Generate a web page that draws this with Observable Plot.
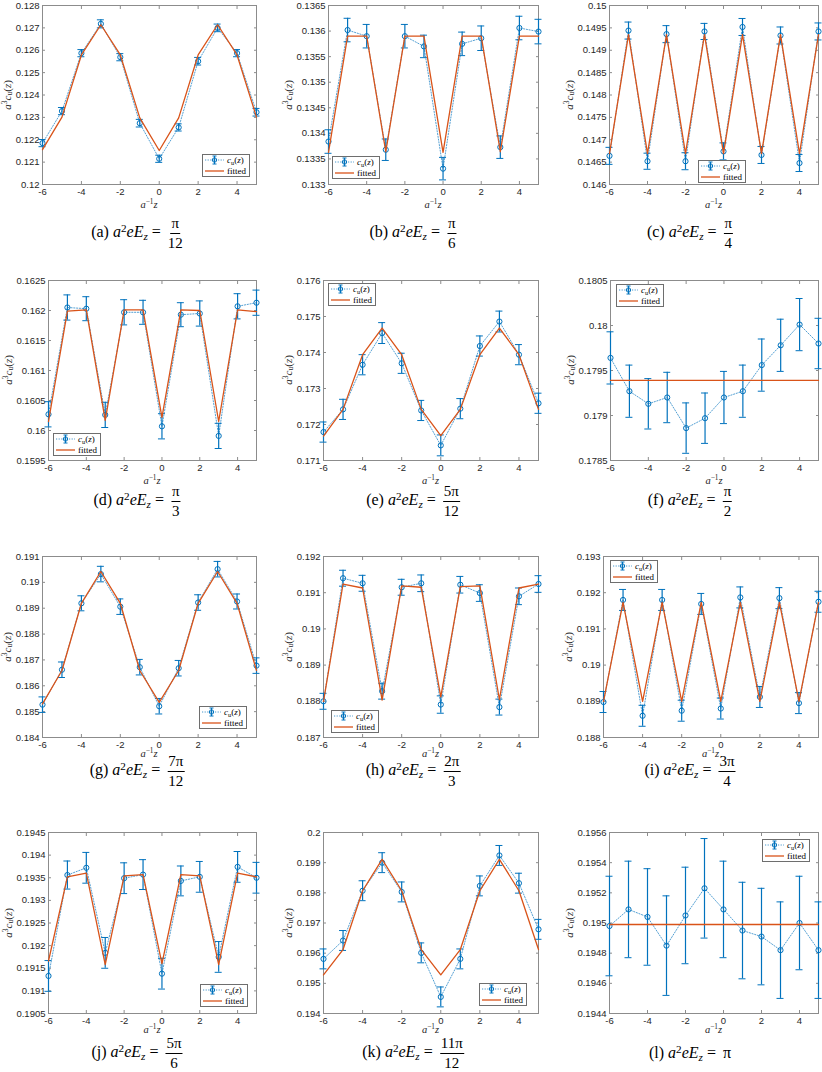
<!DOCTYPE html>
<html><head><meta charset="utf-8">
<script src="https://cdn.jsdelivr.net/npm/d3@7"></script>
<script src="https://cdn.jsdelivr.net/npm/@observablehq/plot@0.6"></script>
<style>
body{margin:0;background:#fff;}
#fig{position:relative;width:822px;height:1072px;overflow:hidden;background:#fff;}
.pan{position:absolute;}
.lab{position:absolute;font-family:"Liberation Serif","DejaVu Serif",serif;color:#262626;white-space:nowrap;line-height:1;}
.ylab{font-size:11px;transform:translate(-50%,-50%) rotate(-90deg);}
.xlab{font-size:10.5px;transform:translate(-50%,-50%);}
.cap{font-size:16px;color:#000;transform:translate(-50%,-50%);line-height:1.2;}
sup{font-size:70%;vertical-align:0.45em;line-height:0;}
sub{font-size:70%;vertical-align:-0.25em;line-height:0;}
.frac{display:inline-flex;flex-direction:column;align-items:center;vertical-align:middle;margin-left:3px;font-size:15px;line-height:1.1;}
.frac .num{border-bottom:1px solid #000;padding:0 1px 1px 1px;}
.frac .den{padding-top:1px;}
.leg{position:absolute;width:48px;height:23px;box-sizing:border-box;border:1px solid #6e6e6e;background:#fff;font-family:"Liberation Serif",serif;font-size:9px;color:#000;padding:0 2px;}
.leg .row{display:flex;align-items:center;height:10.5px;}
.leg svg{flex:none;margin-right:3px;}
</style></head><body><div id="fig"></div>
<script>
// ---------- data ----------
const z = [-6,-5,-4,-3,-2,-1,0,1,2,3,4,5];
const xTicks = [-6,-4,-2,0,2,4];
const panelIds = ["a","b","c","d","e","f","g","h","i","j","k","l"];
const captionNum = ["π","π","π","π","5π","π","7π","2π","3π","5π","11π","π"];
const captionDen = ["12","6","4","3","12","2","12","3","4","6","12",""];

const cu_a = [0.12185,0.12328,0.12587,0.12718,0.12569,0.12274,0.12115,0.12255,0.12551,0.12700,0.12587,0.12323];
const err_a = [0.00016,0.00016,0.00016,0.00018,0.00016,0.00017,0.00016,0.00016,0.00017,0.00017,0.00016,0.00017];
const fit_a = [0.12156,0.12301,0.12579,0.12714,0.12579,0.12298,0.12152,0.12298,0.12579,0.12714,0.12579,0.12301];
const yt_a = [0.120,0.121,0.122,0.123,0.124,0.125,0.126,0.127,0.128];

const cu_b = [0.13384,0.13602,0.13590,0.13368,0.13590,0.13570,0.13331,0.13575,0.13586,0.13373,0.13606,0.13599];
const err_b = [0.00023,0.00023,0.00023,0.00021,0.00023,0.00022,0.00022,0.00023,0.00024,0.00022,0.00023,0.00024];
const fit_b = [0.13363,0.13590,0.13590,0.13364,0.13590,0.13590,0.13363,0.13590,0.13590,0.13364,0.13590,0.13590];
const yt_b = [0.133,0.1335,0.134,0.1345,0.135,0.1355,0.136,0.1365];

const cu_c = [0.14664,0.14944,0.14652,0.14936,0.14652,0.14942,0.14674,0.14952,0.14666,0.14933,0.14648,0.14942];
const err_c = [0.00019,0.00019,0.00018,0.00019,0.00019,0.00018,0.00019,0.00019,0.00019,0.00019,0.00019,0.00019];
const fit_c = [0.14669,0.14935,0.14669,0.14935,0.14669,0.14935,0.14669,0.14935,0.14669,0.14935,0.14669,0.14935];
const yt_c = [0.146,0.1465,0.147,0.1475,0.148,0.1485,0.149,0.1495,0.15];

const cu_d = [0.16027,0.16205,0.16203,0.16026,0.16197,0.16197,0.16007,0.16193,0.16195,0.15991,0.16207,0.16213];
const err_d = [0.00021,0.00021,0.00020,0.00021,0.00021,0.00020,0.00021,0.00020,0.00021,0.00021,0.00021,0.00021];
const fit_d = [0.16015,0.16199,0.16201,0.16017,0.16201,0.16201,0.16022,0.16201,0.16200,0.16015,0.16201,0.16198];
const yt_d = [0.1595,0.16,0.1605,0.161,0.1615,0.162,0.1625];

const cu_e = [0.17179,0.17242,0.17366,0.17454,0.17370,0.17239,0.17142,0.17244,0.17418,0.17486,0.17394,0.17259];
const err_e = [0.00028,0.00028,0.00028,0.00029,0.00028,0.00028,0.00029,0.00028,0.00028,0.00029,0.00028,0.00028];
const fit_e = [0.17168,0.17242,0.17394,0.17468,0.17394,0.17242,0.17169,0.17242,0.17394,0.17468,0.17394,0.17242];
const yt_e = [0.171,0.172,0.173,0.174,0.175,0.176];

const cu_f = [0.17964,0.17927,0.17913,0.17920,0.17886,0.17897,0.17920,0.17927,0.17956,0.17978,0.18001,0.17980];
const err_f = [0.00029,0.00029,0.00028,0.00028,0.00028,0.00028,0.00029,0.00029,0.00029,0.00029,0.00029,0.00028];
const fit_f = [0.17939,0.17939,0.17939,0.17939,0.17939,0.17939,0.17939,0.17939,0.17939,0.17939,0.17939,0.17939];
const yt_f = [0.1785,0.179,0.1795,0.18,0.1805];

const cu_g = [0.18527,0.18662,0.18919,0.19032,0.18906,0.18672,0.18521,0.18668,0.18922,0.19051,0.18926,0.18678];
const err_g = [0.00030,0.00030,0.00029,0.00030,0.00030,0.00030,0.00030,0.00030,0.00030,0.00030,0.00029,0.00030];
const fit_g = [0.18530,0.18659,0.18919,0.19042,0.18919,0.18659,0.18536,0.18659,0.18919,0.19042,0.18919,0.18659];
const yt_g = [0.184,0.185,0.186,0.187,0.188,0.189,0.19,0.191];

const cu_h = [0.18800,0.19140,0.19126,0.18828,0.19115,0.19126,0.18791,0.19122,0.19099,0.18784,0.19090,0.19124];
const err_h = [0.00022,0.00022,0.00022,0.00022,0.00022,0.00023,0.00024,0.00023,0.00023,0.00022,0.00023,0.00023];
const fit_h = [0.18800,0.19124,0.19113,0.18803,0.19119,0.19115,0.18812,0.19117,0.19119,0.18805,0.19113,0.19124];
const yt_h = [0.187,0.188,0.189,0.19,0.191,0.192];

const cu_i = [0.18898,0.19180,0.18860,0.19180,0.18874,0.19169,0.18880,0.19187,0.18912,0.19185,0.18895,0.19175];
const err_i = [0.00029,0.00029,0.00029,0.00029,0.00029,0.00029,0.00029,0.00029,0.00029,0.00029,0.00029,0.00029];
const fit_i = [0.18900,0.19173,0.18900,0.19173,0.18900,0.19173,0.18900,0.19173,0.18900,0.19173,0.18900,0.19173];
const yt_i = [0.188,0.189,0.19,0.191,0.192,0.193];

const cu_j = [0.19133,0.19356,0.19372,0.19184,0.19349,0.19357,0.19138,0.19343,0.19352,0.19175,0.19374,0.19350];
const err_j = [0.00034,0.00031,0.00034,0.00034,0.00034,0.00033,0.00034,0.00033,0.00034,0.00034,0.00034,0.00034];
const fit_j = [0.19166,0.19352,0.19360,0.19158,0.19354,0.19357,0.19160,0.19357,0.19354,0.19158,0.19360,0.19352];
const yt_j = [0.1905,0.191,0.1915,0.192,0.1925,0.193,0.1935,0.194,0.1945];

const cu_k = [0.19581,0.19642,0.19807,0.19900,0.19803,0.19601,0.19455,0.19581,0.19823,0.19924,0.19832,0.19679];
const err_k = [0.00033,0.00033,0.00033,0.00033,0.00033,0.00033,0.00033,0.00033,0.00033,0.00033,0.00033,0.00033];
const fit_k = [0.19528,0.19612,0.19807,0.19911,0.19807,0.19612,0.19528,0.19612,0.19807,0.19911,0.19807,0.19612];
const yt_k = [0.194,0.195,0.196,0.197,0.198,0.199,0.2];

const cu_l = [0.19498,0.19509,0.19504,0.19485,0.19505,0.19523,0.19509,0.19495,0.19491,0.19482,0.19500,0.19482];
const err_l = [0.00033,0.00032,0.00032,0.00033,0.00032,0.00033,0.00032,0.00032,0.00032,0.00032,0.00031,0.00032];
const fit_l = [0.19499,0.19499,0.19499,0.19499,0.19499,0.19499,0.19499,0.19499,0.19499,0.19499,0.19499,0.19499];
const yt_l = [0.1944,0.1946,0.1948,0.195,0.1952,0.1954,0.1956];

const cuAll = [cu_a,cu_b,cu_c,cu_d,cu_e,cu_f,cu_g,cu_h,cu_i,cu_j,cu_k,cu_l];
const errAll = [err_a,err_b,err_c,err_d,err_e,err_f,err_g,err_h,err_i,err_j,err_k,err_l];
const fitAll = [fit_a,fit_b,fit_c,fit_d,fit_e,fit_f,fit_g,fit_h,fit_i,fit_j,fit_k,fit_l];
const ytAll = [yt_a,yt_b,yt_c,yt_d,yt_e,yt_f,yt_g,yt_h,yt_i,yt_j,yt_k,yt_l];

// ---------- layout (page pixels) ----------
const boxes = [
  [42,256,5,184],[328,538,5,184],[609,818,5,184],
  [48,256,280,460],[323,538,280,460],[610,818,280,460],
  [42,256,556,737],[323,538,556,737],[603,818,556,737],
  [48,256,832,1013],[323,538,832,1013],[609,818,832,1013]
];
const capY = [233,501,771,1053];
const xLabGap = [21,21,17,17];
const capX = [137,413,690];
const legendPlace = [
  ["right",6,"bottom",7],["left",4,"bottom",5],["left",89,"bottom",1],
  ["left",5,"bottom",4],["left",5,"top",3],["left",6,"top",4],
  ["right",9,"bottom",8],["left",8,"bottom",4],["left",7,"top",4],
  ["right",8,"bottom",6],["right",11,"bottom",7],["right",8,"top",7]
];
const C = {blue:"#0072BD", orange:"#D95319", axis:"#8c8c8c", text:"#262626"};

const fig = document.getElementById("fig");
const fmt = d => String(+d.toFixed(5));
const ctx = document.createElement("canvas").getContext("2d");
ctx.font = "9.5px 'Liberation Sans'";

function addDiv(cls, html, x, y) {
  const d = document.createElement("div");
  d.className = cls;
  d.innerHTML = html;
  d.style.left = x + "px";
  d.style.top = y + "px";
  fig.appendChild(d);
  return d;
}

const legendHTML =
  `<div class="row"><svg width="19" height="10"><line x1="0" y1="5" x2="19" y2="5" stroke="${C.blue}" stroke-width="0.9" stroke-dasharray="1.2,1.4" opacity="0.8"/><line x1="9.5" y1="1" x2="9.5" y2="9" stroke="${C.blue}" stroke-width="1.1"/><line x1="7.5" y1="1" x2="11.5" y2="1" stroke="${C.blue}" stroke-width="1"/><line x1="7.5" y1="9" x2="11.5" y2="9" stroke="${C.blue}" stroke-width="1"/><circle cx="9.5" cy="5" r="2.2" fill="none" stroke="${C.blue}" stroke-width="1"/></svg><span><i>c</i><sub>u</sub>(<i>z</i>)</span></div>` +
  `<div class="row"><svg width="19" height="10"><line x1="0" y1="5" x2="19" y2="5" stroke="${C.orange}" stroke-width="1.3"/></svg><span>fitted</span></div>`;

for (let i = 0; i < 12; i++) {
  const [L, R, T, B] = boxes[i];
  const row = Math.floor(i / 3);
  const ml = 60, mr = 8, mt = 6, mb = 18;
  const yt = ytAll[i];
  const data = z.map((x, k) => ({x, v: cuAll[i][k], lo: cuAll[i][k] - errAll[i][k], hi: cuAll[i][k] + errAll[i][k]}));
  const fdata = z.map((x, k) => ({x, f: fitAll[i][k]}));
  const W = R - L + ml + mr, H = B - T + mt + mb;
  const chart = Plot.plot({
    width: W, height: H,
    marginLeft: ml, marginRight: mr, marginTop: mt, marginBottom: mb,
    style: {background: "transparent", fontFamily: "'Liberation Sans', Arial, sans-serif", fontSize: "9.5px", color: C.text, overflow: "visible", maxWidth: "none"},
    x: {domain: [-6, 5], label: null},
    y: {domain: [yt[0], yt[yt.length - 1]], label: null},
    marks: [
      Plot.axisX(xTicks, {anchor: "bottom", tickSize: 0, tickPadding: 4, tickFormat: d => String(d), fill: C.text}),
      Plot.axisX(xTicks, {anchor: "bottom", tickSize: 3, dy: -3, stroke: C.axis, fill: "none"}),
      Plot.axisX(xTicks, {anchor: "top", tickSize: 3, dy: 3, stroke: C.axis, fill: "none"}),
      Plot.axisY(yt, {anchor: "left", tickSize: 0, tickPadding: 3, tickFormat: fmt, fill: C.text}),
      Plot.axisY(yt, {anchor: "left", tickSize: 3, dx: 3, stroke: C.axis, fill: "none"}),
      Plot.axisY(yt, {anchor: "right", tickSize: 3, dx: -3, stroke: C.axis, fill: "none"}),
      Plot.frame({stroke: C.axis}),
      Plot.line(data, {x: "x", y: "v", stroke: C.blue, strokeWidth: 0.9, strokeDasharray: "1.2,1.6", strokeOpacity: 0.75}),
      Plot.ruleX(data, {x: "x", y1: "lo", y2: "hi", stroke: C.blue, strokeWidth: 1.2}),
      Plot.ruleY(data, {y: "lo", x1: "x", x2: "x", insetLeft: -3.5, insetRight: -3.5, stroke: C.blue, strokeWidth: 1}),
      Plot.ruleY(data, {y: "hi", x1: "x", x2: "x", insetLeft: -3.5, insetRight: -3.5, stroke: C.blue, strokeWidth: 1}),
      Plot.dot(data, {x: "x", y: "v", r: 2.6, stroke: C.blue, fill: "none", strokeWidth: 1}),
      Plot.line(fdata, {x: "x", y: "f", stroke: C.orange, strokeWidth: 1.3})
    ]
  });
  const holder = document.createElement("div");
  holder.className = "pan";
  holder.style.left = (L - ml) + "px";
  holder.style.top = (T - mt) + "px";
  holder.style.width = W + "px";
  holder.style.height = H + "px";
  holder.appendChild(chart);
  fig.appendChild(holder);

  // y label
  const tw = Math.max(...yt.map(t => ctx.measureText(fmt(t)).width));
  addDiv("lab ylab", `<i>a</i><sup>3</sup><i>c</i><sub>u</sub>(<i>z</i>)`, L - 3 - tw - 8, (T + B) / 2);
  // x label
  addDiv("lab xlab", `<i>a</i><sup>−1</sup><i>z</i>`, (L + R) / 2, B + xLabGap[row]);
  // legend
  const [ha, hi, va, vi] = legendPlace[i];
  const lx = ha === "right" ? R - hi - 48 : L + hi;
  const ly = va === "bottom" ? B - vi - 23 : T + vi;
  addDiv("leg", legendHTML, lx, ly);
  // caption
  const num = captionNum[i], den = captionDen[i];
  const rhs = den ? `<span class="frac"><span class="num">${num}</span><span class="den">${den}</span></span>` : `<span style="margin-left:3px">${num}</span>`;
  addDiv("lab cap", `<span>(${panelIds[i]})&nbsp;<i>a</i><sup>2</sup><i>eE</i><sub><i>z</i></sub>&nbsp;=&nbsp;${rhs}</span>`, capX[i % 3], capY[row]);
}
</script></body></html>
